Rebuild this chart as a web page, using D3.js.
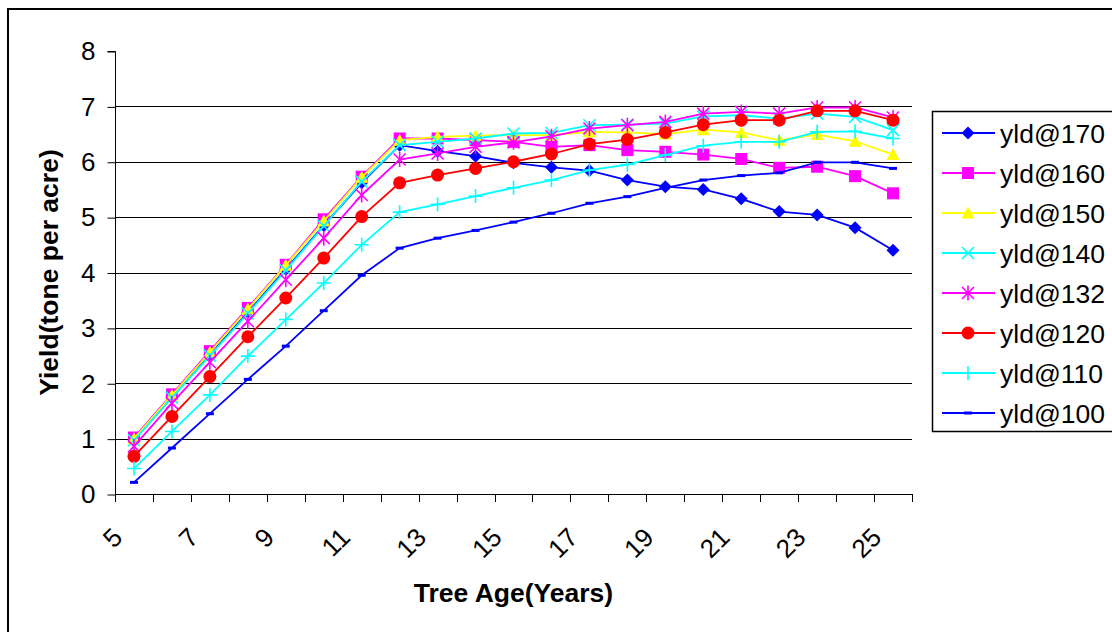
<!DOCTYPE html>
<html>
<head>
<meta charset="utf-8">
<script src="https://cdn.jsdelivr.net/npm/d3@7"></script>
<style>
  html, body { margin: 0; padding: 0; background: #fff; }
  svg { display: block; }
  text { font-family: Arial, "Liberation Sans", sans-serif; fill: #000; }
</style>
</head>
<body>
<div id="chart"></div>
<script>
// ---------- data ----------
const ages = [5,6,7,8,9,10,11,12,13,14,15,16,17,18,19,20,21,22,23,24,25];
const xTickLabels = [5,7,9,11,13,15,17,19,21,23,25];
const yTicks = [0,1,2,3,4,5,6,7,8];
const gridValues = [1,2,3,4,5,6,7];

const seriesNames = ["yld@170","yld@160","yld@150","yld@140","yld@132","yld@120","yld@110","yld@100"];
const seriesColors = ["#0000FF","#FF00FF","#FFFF00","#00FFFF","#FF00FF","#FF0000","#00FFFF","#0000FF"];
const seriesMarkers = ["diamond","square","triangle","x","asterisk","circle","plus","dash"];

const yld170 = [0.98,1.75,2.52,3.28,4.06,4.85,5.62,6.30,6.19,6.10,5.98,5.90,5.84,5.67,5.55,5.50,5.33,5.10,5.04,4.81,4.40];
const yld160 = [1.02,1.80,2.58,3.36,4.14,4.96,5.73,6.42,6.42,6.39,6.36,6.27,6.30,6.21,6.18,6.13,6.05,5.89,5.91,5.74,5.43];
const yld150 = [1.00,1.78,2.56,3.34,4.13,4.93,5.72,6.39,6.45,6.47,6.48,6.48,6.54,6.53,6.50,6.58,6.53,6.39,6.49,6.37,6.13];
const yld140 = [0.97,1.74,2.50,3.26,4.04,4.84,5.64,6.30,6.36,6.42,6.51,6.52,6.66,6.67,6.69,6.82,6.84,6.78,6.87,6.81,6.57];
const yld132 = [0.86,1.64,2.38,3.12,3.87,4.62,5.40,6.04,6.15,6.27,6.35,6.46,6.60,6.66,6.72,6.87,6.90,6.87,6.98,6.98,6.80];
const yld120 = [0.68,1.40,2.12,2.84,3.54,4.26,5.01,5.62,5.76,5.88,6.00,6.14,6.32,6.40,6.53,6.67,6.75,6.75,6.92,6.92,6.75];
const yld110 = [0.46,1.13,1.79,2.49,3.15,3.81,4.50,5.09,5.23,5.38,5.53,5.67,5.85,5.95,6.12,6.29,6.36,6.36,6.54,6.55,6.42];
const yld100 = [0.21,0.83,1.45,2.07,2.67,3.31,3.95,4.44,4.62,4.76,4.91,5.07,5.25,5.37,5.53,5.67,5.75,5.80,5.99,5.99,5.88];

const seriesValues = [yld170,yld160,yld150,yld140,yld132,yld120,yld110,yld100];

// ---------- layout ----------
const W = 1112, H = 632;
const plot = {left: 115, right: 912, top: 51, bottom: 494};

const svg = d3.select("#chart").append("svg").attr("width", W).attr("height", H);

// outer chart border
svg.append("rect").attr("x", 8).attr("y", 9).attr("width", 1200).attr("height", 800)
  .attr("fill", "none").attr("stroke", "#000").attr("stroke-width", 2);

const x = d3.scaleBand().domain(ages).range([plot.left, plot.right]).paddingInner(0).paddingOuter(0);
const y = d3.scaleLinear().domain([0, 8]).range([plot.bottom, plot.top]);
const cx = a => x(a) + x.bandwidth() / 2;

// gridlines
svg.append("g").selectAll("line").data(gridValues).join("line")
  .attr("x1", plot.left).attr("x2", plot.right)
  .attr("y1", d => Math.round(y(d)) + 0.5).attr("y2", d => Math.round(y(d)) + 0.5)
  .attr("stroke", "#000").attr("stroke-width", 1);

// y axis
const yAxis = d3.axisLeft(y).tickValues(yTicks).tickSize(8).tickPadding(12).tickFormat(d3.format("d"));
const gy = svg.append("g").attr("transform", `translate(${plot.left + 0.5},0.5)`).call(yAxis);
gy.select(".domain").attr("stroke", "#000").attr("d", `M-8,${y(8)}H0V${y(0)}`);
gy.selectAll(".tick line").attr("stroke", "#000");
gy.selectAll(".tick text").attr("font-size", 26).attr("font-family", "Arial, 'Liberation Sans', sans-serif");

// x axis line and tick marks at category boundaries
const boundaries = ages.map(a => x(a)).concat([x.range()[1]]);
const gx = svg.append("g");
gx.append("line").attr("x1", plot.left).attr("x2", plot.right)
  .attr("y1", plot.bottom + 0.5).attr("y2", plot.bottom + 0.5).attr("stroke", "#000");
gx.selectAll("line.t").data(boundaries).join("line").attr("class", "t")
  .attr("x1", d => Math.round(d) + 0.5).attr("x2", d => Math.round(d) + 0.5)
  .attr("y1", plot.bottom).attr("y2", plot.bottom + 8).attr("stroke", "#000");
gx.selectAll("text").data(xTickLabels).join("text")
  .attr("transform", d => `translate(${x(d) + 9},539) rotate(-45)`)
  .attr("text-anchor", "end").attr("font-size", 26).text(d => d);

// axis titles
svg.append("text").attr("x", (plot.left + plot.right) / 2).attr("y", 602)
  .attr("text-anchor", "middle").attr("font-size", 26.5).attr("font-weight", "bold")
  .text("Tree Age(Years)");
svg.append("text")
  .attr("transform", `translate(58,${(plot.top + plot.bottom) / 2}) rotate(-90)`)
  .attr("text-anchor", "middle").attr("font-size", 26.5).attr("font-weight", "bold")
  .text("Yield(tone per acre)");

// markers
function drawMarker(g, type, color) {
  const r = 6.5;
  switch (type) {
    case "diamond":
      g.append("path").attr("d", `M0,${-r}L${r},0L0,${r}L${-r},0Z`).attr("fill", color); break;
    case "square":
      g.append("rect").attr("x", -6).attr("y", -6).attr("width", 12).attr("height", 12).attr("fill", color); break;
    case "triangle":
      g.append("path").attr("d", `M0,${-r}L${r},5.5L${-r},5.5Z`).attr("fill", color); break;
    case "circle":
      g.append("circle").attr("r", r).attr("fill", color); break;
    case "x":
      g.append("path").attr("d", "M-6,-6L6,6M-6,6L6,-6").attr("stroke", color).attr("stroke-width", 1.6).attr("fill", "none"); break;
    case "asterisk":
      g.append("path").attr("d", "M-6,-6L6,6M-6,6L6,-6M0,-7.5L0,7.5").attr("stroke", color).attr("stroke-width", 1.6).attr("fill", "none"); break;
    case "plus":
      g.append("path").attr("d", "M-7,0L7,0M0,-7L0,7").attr("stroke", color).attr("stroke-width", 1.6).attr("fill", "none"); break;
    case "dash":
      g.append("rect").attr("x", -4).attr("y", -1.5).attr("width", 8).attr("height", 3).attr("fill", color); break;
  }
}

// series
const line = d3.line().x((d, i) => cx(ages[i])).y(d => y(d));
seriesValues.forEach((vals, s) => {
  const g = svg.append("g");
  g.append("path").datum(vals).attr("d", line).attr("fill", "none")
    .attr("stroke", seriesColors[s]).attr("stroke-width", 1.8);
  vals.forEach((v, i) => {
    const m = g.append("g").attr("transform", `translate(${cx(ages[i])},${y(v)})`);
    drawMarker(m, seriesMarkers[s], seriesColors[s]);
  });
});

// legend
const lg = svg.append("g");
lg.append("rect").attr("x", 932.5).attr("y", 111.5).attr("width", 300).attr("height", 320)
  .attr("fill", "#fff").attr("stroke", "#000").attr("stroke-width", 1.5);
seriesNames.forEach((name, s) => {
  const yy = 133 + s * 40;
  lg.append("line").attr("x1", 942).attr("x2", 995).attr("y1", yy).attr("y2", yy)
    .attr("stroke", seriesColors[s]).attr("stroke-width", 1.8);
  const m = lg.append("g").attr("transform", `translate(968,${yy})`);
  drawMarker(m, seriesMarkers[s], seriesColors[s]);
  lg.append("text").attr("x", 1000).attr("y", yy).attr("dy", "0.36em")
    .attr("font-size", 26.5).text(name);
});
</script>
</body>
</html>
